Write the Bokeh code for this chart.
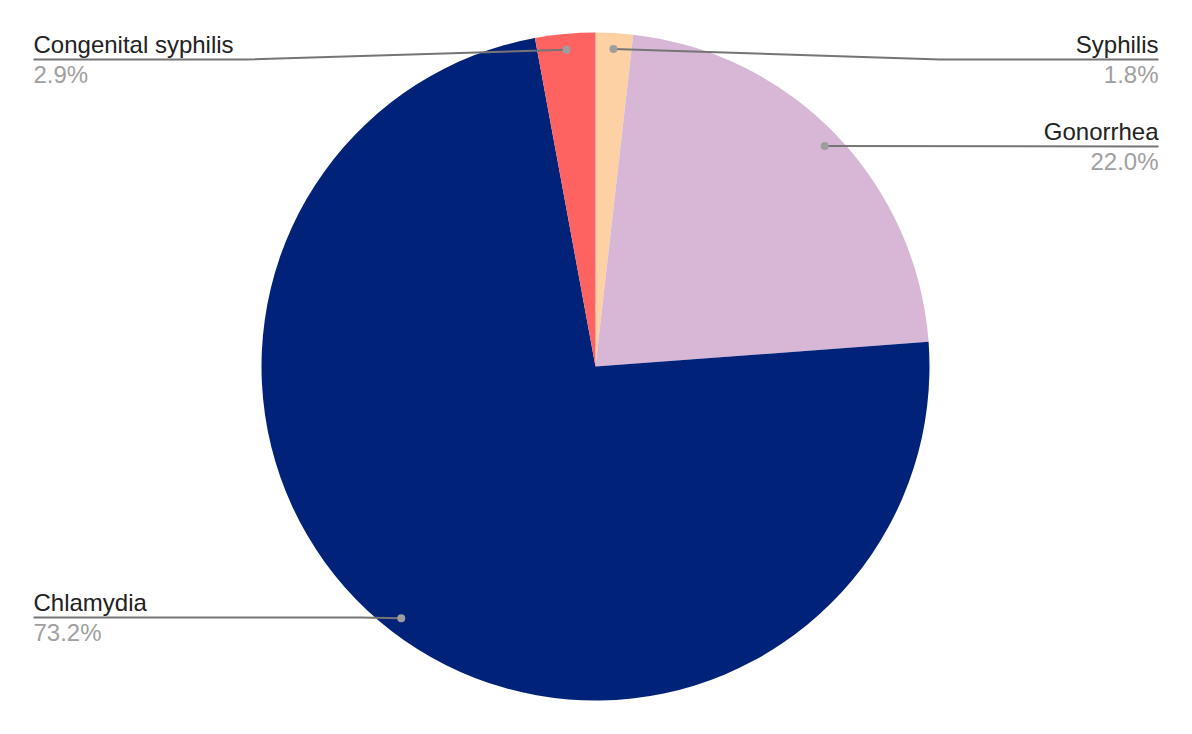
import numpy as np
from bokeh.plotting import figure
from bokeh.models import Range1d, ColumnDataSource
from bokeh.core.properties import value
from bokeh.embed import file_html
from bokeh.resources import INLINE

# slices in clockwise order, starting at 12 o'clock
diseases = ["Syphilis", "Gonorrhea", "Chlamydia", "Congenital syphilis"]
shares = [1.8, 22.0, 73.2, 2.9]
colors = ["#fdd1a3", "#d8b6d6", "#002379", "#ff6361"]

# label placement (screen px of the reference): side, leader y, elbow x
label_side = ["right", "right", "left", "left"]
label_y = [59, 146, 617, 59]
label_elbow = [940, None, 360, 245]

W, H = 1176, 718
cx, cy, R = 595, 352, 334

def sy(py):
    return 718 - py

frac = np.array(shares) / sum(shares)
cum = np.concatenate([[0], np.cumsum(frac)])
start = np.pi / 2 - 2 * np.pi * cum[:-1]
end = np.pi / 2 - 2 * np.pi * cum[1:]
mid = (start + end) / 2

src = ColumnDataSource(dict(start=start, end=end, color=colors, name=diseases))

p = figure(width=W, height=H, x_range=Range1d(0, W), y_range=Range1d(0, H),
           output_backend="svg", toolbar_location=None, min_border=0)
p.axis.visible = False
p.grid.visible = False
p.outline_line_color = None

p.wedge(x=cx, y=cy, radius=R, start_angle="start", end_angle="end",
        direction="clock", fill_color="color", line_color=None, source=src)

# leader lines, dots and labels
dot_x = cx + 0.952 * R * np.cos(mid)
dot_y = cy + 0.952 * R * np.sin(mid)
xs, ys = [], []
tx, ty_name, ty_pct, aligns = [], [], [], []
for i in range(len(diseases)):
    ly = sy(label_y[i])
    edge = 33 if label_side[i] == "left" else 1158
    if label_elbow[i] is None:
        xs.append([edge, dot_x[i]])
        ys.append([ly, dot_y[i]])
    else:
        xs.append([edge, label_elbow[i], dot_x[i]])
        ys.append([ly, ly, dot_y[i]])
    tx.append(edge)
    ty_name.append(ly + 15)
    ty_pct.append(ly - 15)
    aligns.append(label_side[i])

p.multi_line(xs=xs, ys=ys, line_color="#757575", line_width=2)
p.scatter(x=dot_x, y=dot_y, size=8, fill_color="#9e9e9e", line_color=None)

lab = ColumnDataSource(dict(x=tx, yn=ty_name, yp=ty_pct, align=aligns,
                            name=diseases, pct=[f"{s:.1f}%" for s in shares]))
p.text(x="x", y="yn", text="name", text_align="align", text_baseline="alphabetic",
       text_font=value("Liberation Sans"), text_font_size="24px",
       text_color="#222222", source=lab)
p.text(x="x", y="yp", text="pct", text_align="align", text_baseline="alphabetic",
       text_font=value("Liberation Sans"), text_font_size="24px",
       text_color="#a0a0a0", source=lab)

open("out.html", "w").write(file_html(p, INLINE))
